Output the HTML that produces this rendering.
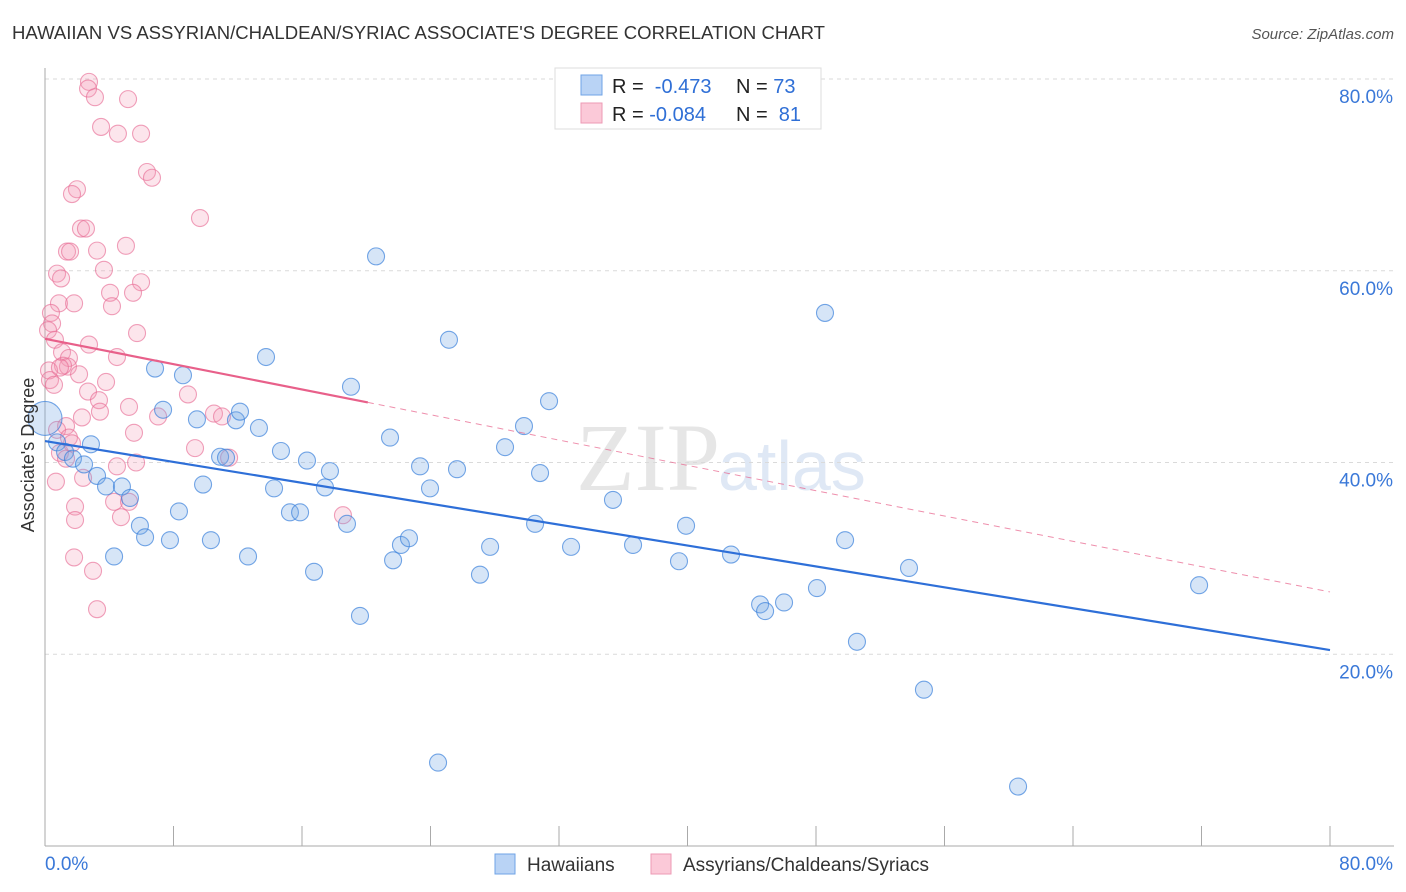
<!DOCTYPE html>
<html><head><meta charset="utf-8"><style>
body{margin:0;background:#fff;font-family:"Liberation Sans",sans-serif;}
svg{display:block}
</style></head><body>
<svg id="chart" width="1406" height="892" xmlns="http://www.w3.org/2000/svg">
<text x="12" y="39" font-size="18" fill="#333" textLength="813" lengthAdjust="spacingAndGlyphs">HAWAIIAN VS ASSYRIAN/CHALDEAN/SYRIAC ASSOCIATE'S DEGREE CORRELATION CHART</text>
<text x="1394" y="39" font-size="15" fill="#555" font-style="italic" text-anchor="end">Source: ZipAtlas.com</text>
<text x="720" y="490" font-size="96" fill="#e6e6e6" text-anchor="end" font-family="Liberation Serif,serif">ZIP</text>
<text x="718" y="490" font-size="70" fill="#dfe8f5">atlas</text>
<g id="grid"></g>
<g id="axes"></g>
<g id="pts"></g>
<g id="lines"></g>
<text x="34" y="455" font-size="18" fill="#333" text-anchor="middle" transform="rotate(-90 34 455)">Associate's Degree</text>
<g>
<rect x="555" y="68" width="266" height="61" fill="#fff" stroke="#ddd"/>
<rect x="581" y="75" width="21" height="20" fill="#b9d3f5" stroke="#6fa3e6"/>
<rect x="581" y="103" width="21" height="20" fill="#fbc9d8" stroke="#ec9ab5"/>
<text x="612" y="93" font-size="20" fill="#222">R = <tspan fill="#2f6fd6">&#160;-0.473</tspan></text>
<text x="736" y="93" font-size="20" fill="#222">N = <tspan fill="#2f6fd6">73</tspan></text>
<text x="612" y="121" font-size="20" fill="#222">R = <tspan fill="#2f6fd6">-0.084</tspan></text>
<text x="736" y="121" font-size="20" fill="#222">N = <tspan fill="#2f6fd6">&#160;81</tspan></text>
</g>
<g>
<rect x="495" y="854" width="20" height="20" fill="#b9d3f5" stroke="#6fa3e6"/>
<text x="527" y="871" font-size="19" fill="#333">Hawaiians</text>
<rect x="651" y="854" width="20" height="20" fill="#fbc9d8" stroke="#ec9ab5"/>
<text x="683" y="871" font-size="19" fill="#333">Assyrians/Chaldeans/Syriacs</text>
</g>
</svg>
<script>
const yTicks=[20,40,60,80];
const xTickLabels=["0.0%","80.0%"];
const blueX=[0.0,0.75,1.25,1.74,2.43,2.86,3.24,3.80,4.30,4.79,5.29,5.91,6.23,6.85,7.35,7.78,8.34,8.59,9.46,9.84,10.33,10.90,11.27,11.89,12.14,12.64,13.32,13.76,14.26,14.69,15.25,15.88,16.31,16.75,17.43,17.74,18.80,19.05,19.61,20.61,21.48,21.67,22.16,22.66,23.35,23.97,24.47,25.15,25.65,27.08,27.71,28.64,29.82,30.51,30.82,31.38,32.75,35.36,36.61,39.47,39.91,42.71,44.52,44.83,46.01,48.06,48.56,49.81,50.55,53.79,54.72,60.58,71.85];
const blueY=[44.6,42.1,41.1,40.4,39.8,41.9,38.6,37.5,30.2,37.5,36.3,33.4,32.2,49.8,45.5,31.9,34.9,49.1,44.5,37.7,31.9,40.6,40.5,44.4,45.3,30.2,43.6,51.0,37.3,41.2,34.8,34.8,40.2,28.6,37.4,39.1,33.6,47.9,24.0,61.5,42.6,29.8,31.4,32.1,39.6,37.3,8.7,52.8,39.3,28.3,31.2,41.6,43.8,33.6,38.9,46.4,31.2,36.1,31.4,29.7,33.4,30.4,25.2,24.5,25.4,26.9,55.6,31.9,21.3,29.0,16.3,6.2,27.2];
const pinkX=[2.74,2.68,3.11,5.17,3.49,4.54,5.98,6.35,6.66,1.99,1.68,9.65,2.24,2.55,1.37,1.56,3.24,5.04,0.75,1.00,3.67,0.87,1.81,5.98,4.05,4.17,5.48,0.37,0.44,0.19,5.73,0.62,2.74,1.06,1.49,4.48,1.43,1.12,0.25,0.31,2.12,3.80,0.56,2.68,3.36,8.90,5.23,3.42,7.04,2.30,10.52,11.02,1.31,0.75,1.49,5.54,0.93,1.68,1.31,9.34,11.46,4.48,5.67,2.37,0.68,1.87,4.30,5.23,4.73,1.87,1.81,2.99,3.24,18.55,0.93];
const pinkY=[79.7,79.0,78.1,77.9,75.0,74.3,74.3,70.3,69.7,68.5,68.0,65.5,64.4,64.4,62.0,62.0,62.1,62.6,59.7,59.2,60.1,56.6,56.6,58.8,57.7,56.3,57.7,55.6,54.5,53.8,53.5,52.8,52.3,51.5,50.9,51.0,50.0,50.1,49.6,48.6,49.2,48.4,48.1,47.4,46.5,47.1,45.8,45.3,44.8,44.7,45.1,44.8,43.8,43.4,42.6,43.1,41.0,42.0,40.4,41.5,40.5,39.6,40.0,38.4,38.0,35.4,35.9,35.9,34.3,34.0,30.1,28.7,24.7,34.5,49.9];
const blueTrend=[42.24,20.44];
const pinkTrend=[52.9,26.5];
const pinkSolidEnd=20.1;

const NS="http://www.w3.org/2000/svg";
const X0=45,X1=1330,Y0=846,Y80=79;
function sx(v){return X0+v/80*(X1-X0);}
function sy(v){return Y0-v/80*(Y0-Y80);}
function mk(tag,attrs,parent){const e=document.createElementNS(NS,tag);for(const k in attrs)e.setAttribute(k,attrs[k]);parent.appendChild(e);return e;}
const grid=document.getElementById('grid'),axes=document.getElementById('axes'),pts=document.getElementById('pts'),lines=document.getElementById('lines');
yTicks.forEach(t=>{
 const l=mk('line',{x1:X0,x2:1394,y1:sy(t),y2:sy(t),stroke:'#dadada','stroke-dasharray':'4 4'},grid);
 
 
 const tx=mk('text',{x:1393,y:sy(t)+24,'font-size':19,fill:'#3a78d8','text-anchor':'end'},grid);
 tx.textContent=t.toFixed(1)+'%';
 
 
});
const ax=mk('line',{x1:X0,x2:X0,y1:68,y2:Y0,stroke:'#aaa'},axes);


const bx=mk('line',{x1:X0,x2:1394,y1:Y0,y2:Y0,stroke:'#aaa'},axes);


for(let i=0;i<=10;i++){
 const v=i*8;
 const t=mk('line',{x1:sx(v),x2:sx(v),y1:826,y2:Y0,stroke:'#aaa'},axes);
 
 
}
[[0,'start',xTickLabels[0]],[80,'end',xTickLabels[1]]].forEach(([v,a,s])=>{
 const t=mk('text',{x:v===0?45:1393,y:870,'font-size':19,fill:'#3a78d8','text-anchor':a},axes);
 t.textContent=s;
 
 
});
function dots(xs,ys,fill,stroke,name){
 xs.forEach((x,i)=>{
  const r=(name==='hawaiian-point'&&i===0)?17:8.5;
  const c=mk('circle',{cx:sx(x),cy:sy(ys[i]),r:r,fill:fill,stroke:stroke,'stroke-width':1.1},pts);
  
  
 });
}
dots(pinkX,pinkY,'rgba(242,150,180,0.25)','rgba(232,110,150,0.65)','assyrian-point');
dots(blueX,blueY,'rgba(120,170,230,0.3)','rgba(60,130,220,0.7)','hawaiian-point');
function yAt(tr,x){return tr[0]+(tr[1]-tr[0])*x/80;}
const bl=mk('line',{x1:sx(0),y1:sy(blueTrend[0]),x2:sx(80),y2:sy(blueTrend[1]),stroke:'#2e6fd8','stroke-width':2.2},lines);


const pl=mk('line',{x1:sx(0),y1:sy(pinkTrend[0]),x2:sx(pinkSolidEnd),y2:sy(yAt(pinkTrend,pinkSolidEnd)),stroke:'#e8608a','stroke-width':2.2},lines);


const pd=mk('line',{x1:sx(pinkSolidEnd),y1:sy(yAt(pinkTrend,pinkSolidEnd)),x2:sx(80),y2:sy(pinkTrend[1]),stroke:'#e8608a','stroke-width':1,'stroke-dasharray':'6 5',opacity:0.7},lines);


</script>
</body></html>
